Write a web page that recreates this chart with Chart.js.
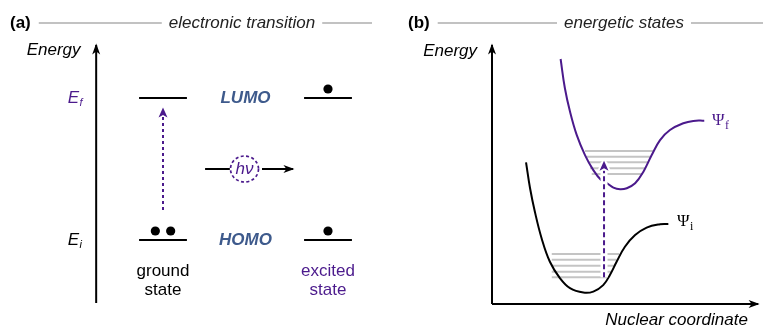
<!DOCTYPE html>
<html>
<head>
<meta charset="utf-8">
<script src="https://cdn.jsdelivr.net/npm/chart.js@4"></script>
<style>
html, body { margin: 0; padding: 0; background: #fff; }
#wrap { position: relative; width: 763px; height: 328px; }
</style>
</head>
<body>
<div id="wrap"><canvas id="diagram"></canvas></div>
<script>
// (a) electronic transition
const columns = ['ground state', 'excited state'];
const columnX = [1, 3];
const orbitals = ['HOMO', 'LUMO'];
const orbitalEnergy = [1, 4];            // E_i, E_f
const energySubs = ['i', 'f'];
const groundElectrons = [2, 0];
const excitedElectrons = [1, 1];
const photonY = 2.5;

// (b) energetic states
const psiFx = [2.56, 2.72, 2.91, 3.16, 3.47, 3.78, 4.07, 4.30, 4.53, 4.78, 5.03, 5.34, 5.65, 5.96, 6.27, 6.64, 7.14, 7.51, 7.92];
const psiFy = [9.46, 8.33, 7.43, 6.53, 5.75, 5.17, 4.79, 4.66, 4.49, 4.43, 4.47, 4.66, 5.11, 5.75, 6.33, 6.72, 6.98, 7.07, 7.08];
const psiIx = [1.27, 1.42, 1.60, 1.85, 2.16, 2.54, 2.91, 3.41, 3.78, 4.15, 4.40, 4.65, 4.96, 5.34, 5.77, 6.27, 6.58];
const psiIy = [5.47, 4.47, 3.56, 2.54, 1.63, 0.99, 0.61, 0.44, 0.48, 0.73, 1.12, 1.63, 2.21, 2.66, 2.95, 3.08, 3.09];
const vibIy = [1.93, 1.71, 1.48, 1.25, 1.03];
const vibIfrom = [2.23, 2.23, 2.23, 2.23, 2.23];
const vibIto = [4.74, 4.65, 4.55, 4.47, 4.29];
const vibFy = [5.91, 5.69, 5.47, 5.24, 5.02];
const vibFfrom = [3.47, 3.53, 3.59, 3.66, 3.72];
const vibFto = [6.02, 5.93, 5.83, 5.75, 5.62];
const transitionX = 4.18;
const transitionFrom = 1.03;
const transitionTo = 5.47;

const PURPLE = '#4b1a8c';
const SLATE = '#3e5a8c';
const SANS = '"Liberation Sans", Arial, sans-serif';
const SERIF = '"Liberation Serif", "Times New Roman", serif';
const W = 763, H = 328;

// scale ranges so the hidden axes line up with the reference layout
function fitX(v1, p1, v2, p2) {
    const k = (p2 - p1) / (v2 - v1);
    const min = v1 - p1 / k;
    return { min: min, max: min + W / k };
}
function fitY(v1, p1, v2, p2) {
    const k = (p1 - p2) / (v2 - v1);
    const max = v1 + p1 / k;
    return { min: max - H / k, max: max };
}

function line(panel, xs, ys, color, width, extra) {
    return Object.assign({
        xAxisID: 'x' + panel, yAxisID: 'y' + panel,
        data: xs.map((x, i) => ({ x: x, y: ys[i] })),
        showLine: true, borderColor: color, borderWidth: width,
        pointRadius: 0, fill: false, clip: false, order: 4
    }, extra || {});
}

const datasets = [];
const LEVEL_HALF = 0.29;

// energy axis (a)
datasets.push(line('a', [0.19, 0.19], [-0.33, 5.12], '#000', 2, { arrow: { len: 11, half: 4, notch: 3, color: '#000' } }));

// orbital levels
columnX.forEach(cx => {
    orbitalEnergy.forEach(e => {
        datasets.push(line('a', [cx - LEVEL_HALF, cx + LEVEL_HALF], [e, e], '#000', 2));
    });
});

// electrons
const electrons = [];
[groundElectrons, excitedElectrons].forEach((counts, c) => {
    counts.forEach((n, l) => {
        const offs = n === 2 ? [-0.093, 0.093] : n === 1 ? [0] : [];
        offs.forEach(o => electrons.push({ x: columnX[c] + o, y: orbitalEnergy[l] + 0.19 }));
    });
});
datasets.push({
    xAxisID: 'xa', yAxisID: 'ya', data: electrons, showLine: false,
    pointRadius: 4.6, pointBackgroundColor: '#000', pointBorderWidth: 0, clip: false, order: 4
});

// excitation arrow (a)
datasets.push(line('a', [columnX[0], columnX[0]], [1.634, 3.77], PURPLE, 2,
    { borderDash: [3, 3], arrow: { len: 10, half: 4.5, notch: 2.5, color: PURPLE } }));

// photon arrow
datasets.push(line('a', [1.51, 1.81], [photonY, photonY], '#000', 2));
datasets.push(line('a', [2.20, 2.575], [photonY, photonY], '#000', 2, { arrow: { len: 11, half: 4, notch: 3, color: '#000' } }));

// axes (b)
datasets.push(line('b', [0, 0], [0, 10], '#000', 2, { arrow: { len: 11, half: 4, notch: 3, color: '#000' } }));
datasets.push(line('b', [0, 9.93], [0, 0], '#000', 2, { arrow: { len: 11, half: 4, notch: 3, color: '#000' } }));

// vibrational levels
vibIy.forEach((y, i) => datasets.push(line('b', [vibIfrom[i], vibIto[i]], [y, y], '#c4c4c4', 2, { order: 6 })));
vibFy.forEach((y, i) => datasets.push(line('b', [vibFfrom[i], vibFto[i]], [y, y], '#c4c4c4', 2, { order: 6 })));

// potential curves
datasets.push(line('b', psiIx, psiIy, '#000', 2, { tension: 0.4, order: 5 }));
datasets.push(line('b', psiFx, psiFy, PURPLE, 2, { tension: 0.4, order: 5 }));

// vertical transition with white halo
datasets.push(line('b', [transitionX, transitionX], [transitionFrom, transitionTo], '#fff', 7, { order: 3 }));
datasets.push(line('b', [transitionX, transitionX], [transitionFrom, transitionTo], PURPLE, 2,
    { borderDash: [5, 3], order: 2, arrow: { len: 10, half: 4.5, notch: 2.5, color: PURPLE, halo: true } }));

function head(ctx, x0, y0, x1, y1, o) {
    const ang = Math.atan2(y1 - y0, x1 - x0);
    ctx.save();
    ctx.translate(x1, y1);
    ctx.rotate(ang);
    ctx.translate(1.5, 0);
    ctx.beginPath();
    ctx.moveTo(0, 0);
    ctx.lineTo(-o.len, -o.half);
    ctx.lineTo(-o.len + o.notch, 0);
    ctx.lineTo(-o.len, o.half);
    ctx.closePath();
    if (o.halo) {
        ctx.strokeStyle = '#fff';
        ctx.lineWidth = 4;
        ctx.lineJoin = 'round';
        ctx.stroke();
    }
    ctx.fillStyle = o.color;
    ctx.fill();
    ctx.restore();
}

function text(ctx, str, x, y, font, color, align) {
    ctx.font = font;
    ctx.fillStyle = color;
    ctx.textAlign = align || 'center';
    ctx.textBaseline = 'middle';
    ctx.fillText(str, x, y);
}

function subscripted(ctx, main, sub, x, y, font, subFont, color) {
    text(ctx, main, x, y, font, color, 'left');
    ctx.font = font;
    const w = ctx.measureText(main).width;
    text(ctx, sub, x + w + 0.5, y + 5, subFont, color, 'left');
}

function header(ctx, tag, title, tagX, titleX, endX) {
    const y = 23;
    text(ctx, tag, tagX, y, 'bold 17px ' + SANS, '#000', 'left');
    ctx.font = 'bold 17px ' + SANS;
    const tagEnd = tagX + ctx.measureText(tag).width;
    ctx.font = 'italic 17px ' + SANS;
    const tw = ctx.measureText(title).width;
    text(ctx, title, titleX, y, 'italic 17px ' + SANS, '#222', 'center');
    ctx.strokeStyle = '#c2c2c2';
    ctx.lineWidth = 2;
    ctx.beginPath();
    ctx.moveTo(tagEnd + 8, y); ctx.lineTo(titleX - tw / 2 - 7, y);
    ctx.moveTo(titleX + tw / 2 + 7, y); ctx.lineTo(endX, y);
    ctx.stroke();
}

const diagramText = {
    id: 'diagramText',
    afterDatasetsDraw(chart) {
        const ctx = chart.ctx;
        const s = chart.scales;
        const ax = v => s.xa.getPixelForValue(v), ay = v => s.ya.getPixelForValue(v);
        const bx = v => s.xb.getPixelForValue(v), by = v => s.yb.getPixelForValue(v);

        chart.data.datasets.forEach((ds, i) => {
            if (!ds.arrow) return;
            const pts = chart.getDatasetMeta(i).data;
            const a = pts[pts.length - 2], b = pts[pts.length - 1];
            head(ctx, a.x, a.y, b.x, b.y, ds.arrow);
        });

        // headers
        header(ctx, '(a)', 'electronic transition', 10, 242, 372);
        header(ctx, '(b)', 'energetic states', 408, 624, 763);

        // panel (a)
        text(ctx, 'Energy', ax(0), ay(5.0), 'italic 17px ' + SANS, '#000', 'right');
        orbitalEnergy.forEach((e, i) => {
            const col = i === 1 ? PURPLE : '#000';
            subscripted(ctx, 'E', energySubs[i], ax(-0.155), ay(e), 'italic 17px ' + SANS, 'italic 11px ' + SANS, col);
            text(ctx, orbitals[i], ax(2), ay(e), 'italic bold 17px ' + SANS, SLATE, 'center');
        });
        columns.forEach((c, i) => {
            const col = i === 1 ? PURPLE : '#000';
            const words = c.split(' ');
            text(ctx, words[0], ax(columnX[i]), ay(0.345), '17px ' + SANS, col, 'center');
            text(ctx, words[1], ax(columnX[i]), ay(-0.056), '17px ' + SANS, col, 'center');
        });

        // photon
        const cx = ax(2) - 1, cy = ay(photonY);
        ctx.save();
        ctx.strokeStyle = PURPLE;
        ctx.lineWidth = 1.7;
        ctx.setLineDash([3, 2.4]);
        ctx.beginPath();
        ctx.ellipse(cx, cy, 14, 13, 0, 0, Math.PI * 2);
        ctx.stroke();
        ctx.restore();
        text(ctx, 'h\u03bd', cx, cy, 'italic 17px ' + SANS, PURPLE, 'center');

        // panel (b)
        text(ctx, 'Energy', bx(-0.56), by(9.77), 'italic 17px ' + SANS, '#000', 'right');
        text(ctx, 'Nuclear coordinate', bx(9.55), by(-0.62), 'italic 17px ' + SANS, '#000', 'right');
        subscripted(ctx, '\u03a8', 'f', bx(8.21), by(7.07), '17px ' + SERIF, '12px ' + SERIF, PURPLE);
        subscripted(ctx, '\u03a8', 'i', bx(6.90), by(3.17), '17px ' + SERIF, '12px ' + SERIF, '#000');
    }
};

const hidden = { type: 'linear', display: false };
new Chart(document.getElementById('diagram'), {
    type: 'scatter',
    data: { datasets: datasets },
    options: {
        responsive: true,
        maintainAspectRatio: false,
        animation: false,
        events: [],
        layout: { padding: 0, autoPadding: false },
        plugins: { legend: { display: false }, tooltip: { enabled: false } },
        scales: {
            xa: Object.assign({ axis: 'x', position: 'bottom' }, hidden, fitX(1, 163, 3, 328)),
            ya: Object.assign({ axis: 'y', position: 'left' }, hidden, fitY(1, 240, 4, 98)),
            xb: Object.assign({ axis: 'x', position: 'bottom' }, hidden, fitX(0, 492, 10, 760)),
            yb: Object.assign({ axis: 'y', position: 'left' }, hidden, fitY(0, 304, 10, 45))
        }
    },
    plugins: [diagramText]
});
</script>
</body>
</html>
